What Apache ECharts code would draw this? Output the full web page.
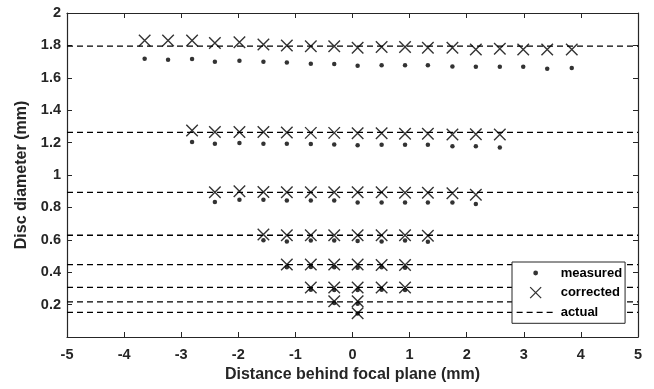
<!DOCTYPE html>
<html><head><meta charset="utf-8">
<script src="https://cdn.jsdelivr.net/npm/echarts@6/dist/echarts.min.js"></script>
<style>html,body{margin:0;padding:0;background:#fff}#c{width:654px;height:389px}</style>
</head><body><div id="c"></div>
<script>
// actual disc diameters (mm)
const actualDiameters = [1.795, 1.263, 0.893, 0.628, 0.447, 0.306, 0.217, 0.152];

// positions behind focal plane (mm), per disc
const pos1 = [-3.64,-3.23,-2.81,-2.41,-1.98,-1.56,-1.15,-0.73,-0.32,0.09,0.51,0.92,1.32,1.75,2.16,2.58,2.99,3.41,3.84];
const pos2 = [-2.81,-2.41,-1.98,-1.56,-1.15,-0.73,-0.32,0.09,0.51,0.92,1.32,1.75,2.16,2.58];
const pos3 = [-2.41,-1.98,-1.56,-1.15,-0.73,-0.32,0.09,0.51,0.92,1.32,1.75,2.16];
const pos4 = [-1.56,-1.15,-0.73,-0.32,0.09,0.51,0.92,1.32];
const pos5 = [-1.15,-0.73,-0.32,0.09,0.51,0.92];
const pos6 = [-0.73,-0.32,0.09,0.51,0.92];
const pos7 = [-0.32,0.09];
const pos8 = [0.09];

// measured diameters
const meas1 = [1.718,1.712,1.716,1.699,1.706,1.699,1.695,1.687,1.685,1.675,1.677,1.677,1.677,1.670,1.668,1.668,1.668,1.656,1.660];
const meas2 = [1.204,1.193,1.198,1.193,1.193,1.191,1.189,1.184,1.187,1.187,1.187,1.177,1.177,1.170];
const meas3 = [0.833,0.847,0.847,0.843,0.843,0.843,0.830,0.831,0.831,0.831,0.831,0.821];
const meas4 = [0.597,0.590,0.595,0.595,0.593,0.590,0.595,0.588];
const meas5 = [0.430,0.432,0.430,0.428,0.430,0.428];
const meas6 = [0.292,0.290,0.290,0.292,0.290];
const meas7 = [0.210,0.205];
const meas8 = [0.145];

// corrected diameters
const corr1 = [1.830,1.830,1.830,1.815,1.820,1.805,1.800,1.795,1.795,1.785,1.790,1.790,1.785,1.785,1.775,1.780,1.775,1.775,1.775];
const corr2 = [1.275,1.265,1.265,1.265,1.262,1.260,1.260,1.257,1.257,1.255,1.255,1.250,1.252,1.250];
const corr3 = [0.893,0.900,0.895,0.893,0.893,0.893,0.893,0.893,0.890,0.890,0.888,0.878];
const corr4 = [0.632,0.628,0.628,0.628,0.628,0.628,0.628,0.625];
const corr5 = [0.447,0.447,0.447,0.447,0.445,0.445];
const corr6 = [0.306,0.306,0.306,0.306,0.306];
const corr7 = [0.220,0.220];
const corr8 = [0.147];

const xTicks = [-5,-4,-3,-2,-1,0,1,2,3,4,5];
const yTickLabels = ['0.2','0.4','0.6','0.8','1','1.2','1.4','1.6','1.8','2'];

const positions = [pos1,pos2,pos3,pos4,pos5,pos6,pos7,pos8];
const measured = [meas1,meas2,meas3,meas4,meas5,meas6,meas7,meas8];
const corrected = [corr1,corr2,corr3,corr4,corr5,corr6,corr7,corr8];

const measData = [], corrData = [];
positions.forEach((p, i) => {
  p.forEach((x, j) => {
    if (measured[i][j] !== undefined) measData.push([x, measured[i][j]]);
    if (corrected[i][j] !== undefined) corrData.push([x, corrected[i][j]]);
  });
});

const FONT = 'Liberation Sans, Arial, Helvetica, sans-serif';
const AX = '#262626';

const series = [
  { name: 'measured', type: 'scatter', data: measData, symbol: 'circle', symbolSize: 4.5,
    itemStyle: { color: '#000' }, z: 3 },
  { name: 'corrected', type: 'scatter', data: corrData, symbol: 'path://M0 0L10 10M10 0L0 10', symbolSize: 11.5,
    itemStyle: { color: 'rgba(0,0,0,0)', borderColor: '#000', borderWidth: 1.4 }, z: 3 }
];
actualDiameters.forEach(v => {
  series.push({ name: 'actual', type: 'line', data: [[xTicks[0], v], [xTicks[xTicks.length-1], v]],
    symbol: 'none', lineStyle: { color: '#000', width: 1.3, type: [6, 4] }, itemStyle: { color: '#000' }, z: 2 });
});

const tickInside = { show: true, inside: true, length: 5, lineStyle: { color: AX, width: 1 } };
const axisLineStyle = { show: true, onZero: false, lineStyle: { color: AX, width: 1.2 } };

const option = {
  animation: false,
  backgroundColor: '#fff',
  grid: { left: 67, right: 16, top: 13, bottom: 52, containLabel: false },
  xAxis: [
    { type: 'value', min: -5, max: 5, interval: 1, position: 'bottom',
      axisLine: axisLineStyle, axisTick: tickInside, splitLine: { show: false },
      axisLabel: { color: AX, fontFamily: FONT, fontWeight: 'bold', fontSize: 14.5, margin: 10 },
      name: 'Distance behind focal plane (mm)', nameLocation: 'middle', nameGap: 30,
      nameTextStyle: { color: AX, fontFamily: FONT, fontWeight: 'bold', fontSize: 16 } },
    { type: 'value', min: -5, max: 5, interval: 1, position: 'top',
      axisLine: axisLineStyle, axisTick: tickInside, splitLine: { show: false }, axisLabel: { show: false } }
  ],
  yAxis: [
    { type: 'value', min: 0, max: 2, interval: 0.2, position: 'left',
      axisLine: axisLineStyle, axisTick: tickInside, splitLine: { show: false },
      axisLabel: { color: AX, fontFamily: FONT, fontWeight: 'bold', fontSize: 14.5, margin: 6,
        formatter: v => { const i = Math.round(v / 0.2) - 1; return i >= 0 ? yTickLabels[i] : ''; } },
      name: 'Disc diameter (mm)', nameLocation: 'middle', nameGap: 34,
      nameTextStyle: { color: AX, fontFamily: FONT, fontWeight: 'bold', fontSize: 16 } },
    { type: 'value', min: 0, max: 2, interval: 0.2, position: 'right',
      axisLine: axisLineStyle, axisTick: tickInside, splitLine: { show: false }, axisLabel: { show: false } }
  ],
  legend: {
    orient: 'vertical', left: 512, top: 262, align: 'left',
    itemWidth: 40, itemHeight: 14, itemGap: 5, padding: [4, 3, 4, 3],
    borderColor: AX, borderWidth: 1, backgroundColor: '#fff', borderRadius: 0,
    textStyle: { color: '#000', fontFamily: FONT, fontWeight: 'bold', fontSize: 13 },
    selectedMode: false,
    data: [
      { name: 'measured', icon: 'path://M0 0M40 14M22.4 7A2.4 2.4 0 1 1 17.6 7A2.4 2.4 0 1 1 22.4 7Z',
        itemStyle: { color: '#000', borderWidth: 0 } },
      { name: 'corrected', icon: 'path://M0 0M40 14M14.5 1.5L25.5 12.5M25.5 1.5L14.5 12.5',
        itemStyle: { color: 'rgba(0,0,0,0)', borderColor: '#000', borderWidth: 1.3 } },
      { name: 'actual', icon: 'path://M0 0M40 14M1 6.4h6v1.3h-6zM11 6.4h6v1.3h-6zM21 6.4h6v1.3h-6zM31 6.4h6v1.3h-6z',
        itemStyle: { color: '#000', borderWidth: 0 } }
    ]
  },
  series: series
};

const chart = echarts.init(document.getElementById('c'), null, { renderer: 'canvas' });
chart.setOption(option);
</script>
</body></html>
